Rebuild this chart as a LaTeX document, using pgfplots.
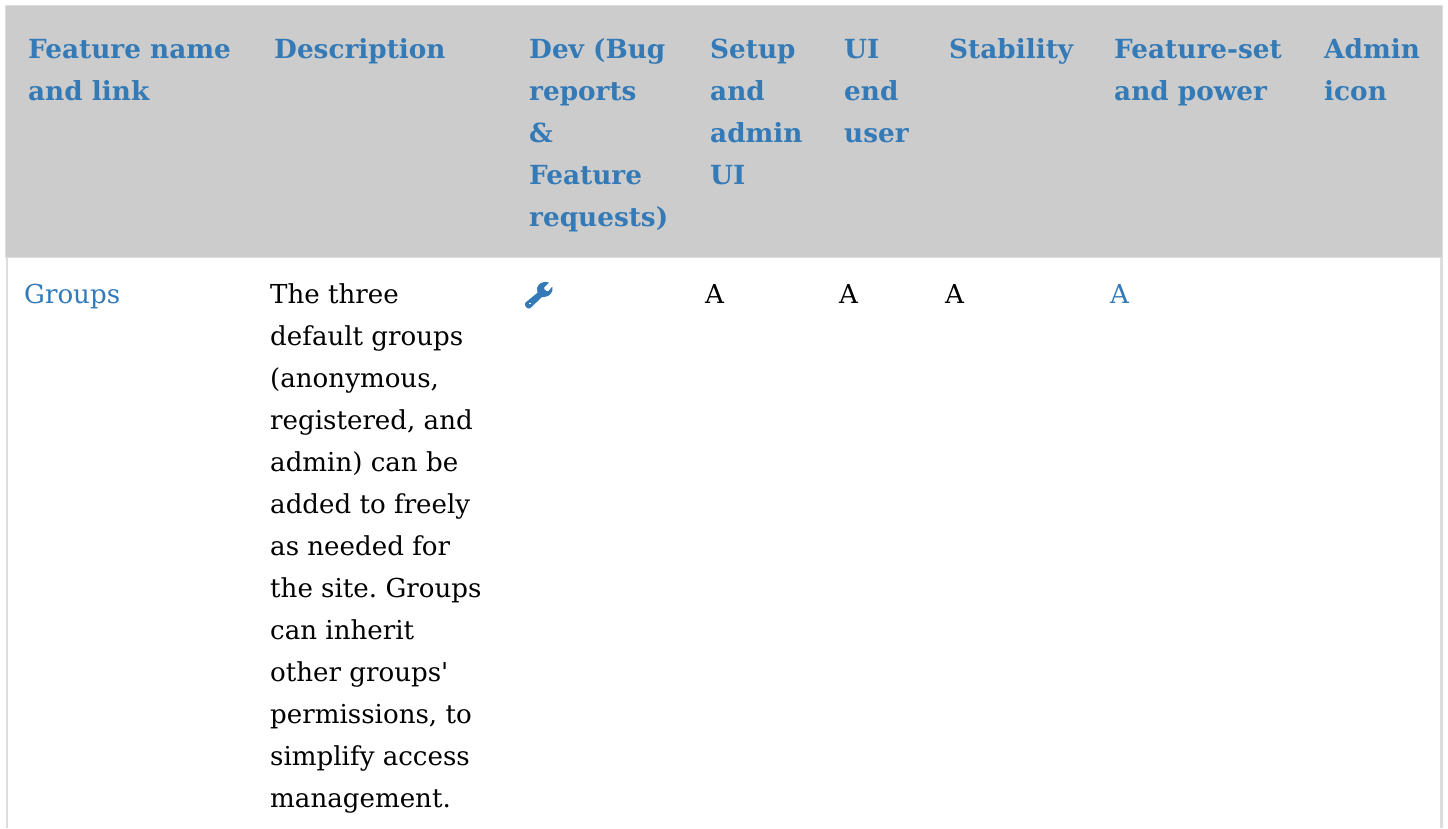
\documentclass[border=0pt]{standalone}
\usepackage{pgfplots}
\pgfplotsset{compat=1.18}
\usepackage{fontspec}
\setmainfont{DejaVu Serif}
\frenchspacing
\definecolor{lnk}{HTML}{337AB7}
\definecolor{hdr}{HTML}{CCCCCC}
\definecolor{brd}{HTML}{DDDDDD}
\newcommand{\hd}[3]{\node[anchor=base west,inner sep=0pt,text=lnk,font=\fontsize{26.3}{26.3}\selectfont\bfseries] at (axis cs:#1,#2) {#3};}
\newcommand{\bd}[3]{\node[anchor=base west,inner sep=0pt,text=black,font=\fontsize{26.1}{26.1}\selectfont] at (axis cs:#1,#2) {#3};}
\newcommand{\lk}[3]{\node[anchor=base west,inner sep=0pt,text=lnk,font=\fontsize{26.1}{26.1}\selectfont] at (axis cs:#1,#2) {#3};}
\begin{document}
\begin{tikzpicture}
\begin{axis}[scale only axis,width=1448pt,height=828pt,xmin=0,xmax=1448,ymin=0,ymax=828,y dir=reverse,axis lines=none,clip=true]
\addplot[draw=none,fill=white,forget plot] coordinates {(0,0)(1448,0)(1448,828)(0,828)} --cycle;
\addplot[draw=none,fill=brd,forget plot] coordinates {(5,5)(1443,5)(1443,258)(5,258)} --cycle;
\addplot[draw=none,fill=hdr,forget plot] coordinates {(6,6)(1442,6)(1442,257)(6,257)} --cycle;
\addplot[draw=none,fill=brd,forget plot] coordinates {(5.5,257)(8,257)(8,828)(5.5,828)} --cycle;
\addplot[draw=none,fill=brd,forget plot] coordinates {(1440,257)(1442.7,257)(1442.7,828)(1440,828)} --cycle;
% wrench
\addplot[draw=none,fill=lnk,forget plot] coordinates {(525.5,302.5)(537.5,292.8)(537,288)(538.5,285)(541,283)(544,282)(547,282)(549,282.7)(544,287.5)(544.5,289.5)(546.5,291)(548.5,291)(552.3,286.5)(552.5,290)(551,293.5)(548,296)(544,297)(542,297)(531,307.5)(529,308.5)(527,308)(525.3,306)(525,304)} --cycle;
\addplot[draw=none,fill=white,forget plot] coordinates {(529.3,302.8)(530.8,302.8)(530.8,304.3)(529.3,304.3)} --cycle;
\hd{28}{58}{Feature name}
\hd{28}{100}{and link}
\hd{274}{58}{Description}
\hd{529}{58}{Dev (Bug}
\hd{529}{100}{reports}
\hd{529}{142}{\&}
\hd{529}{184}{Feature}
\hd{529}{226}{requests)}
\hd{710}{58}{Setup}
\hd{710}{100}{and}
\hd{710}{142}{admin}
\hd{710}{184}{UI}
\hd{844}{58}{UI}
\hd{844}{100}{end}
\hd{844}{142}{user}
\hd{949}{58}{Stability}
\hd{1114}{58}{Feature-set}
\hd{1114}{100}{and power}
\hd{1324}{58}{Admin}
\hd{1324}{100}{icon}
\lk{24}{303}{Groups}
\bd{270}{303}{The three}
\bd{270}{345}{default groups}
\bd{270}{387}{(anonymous,}
\bd{270}{429}{registered, and}
\bd{270}{471}{admin) can be}
\bd{270}{513}{added to freely}
\bd{270}{555}{as needed for}
\bd{270}{597}{the site. Groups}
\bd{270}{639}{can inherit}
\bd{270}{681}{other groups\textquotesingle}
\bd{270}{723}{permissions, to}
\bd{270}{765}{simplify access}
\bd{270}{807}{management.}
\bd{705}{303}{A}
\bd{839}{303}{A}
\bd{945}{303}{A}
\lk{1110}{303}{A}
\end{axis}
\end{tikzpicture}
\end{document}
